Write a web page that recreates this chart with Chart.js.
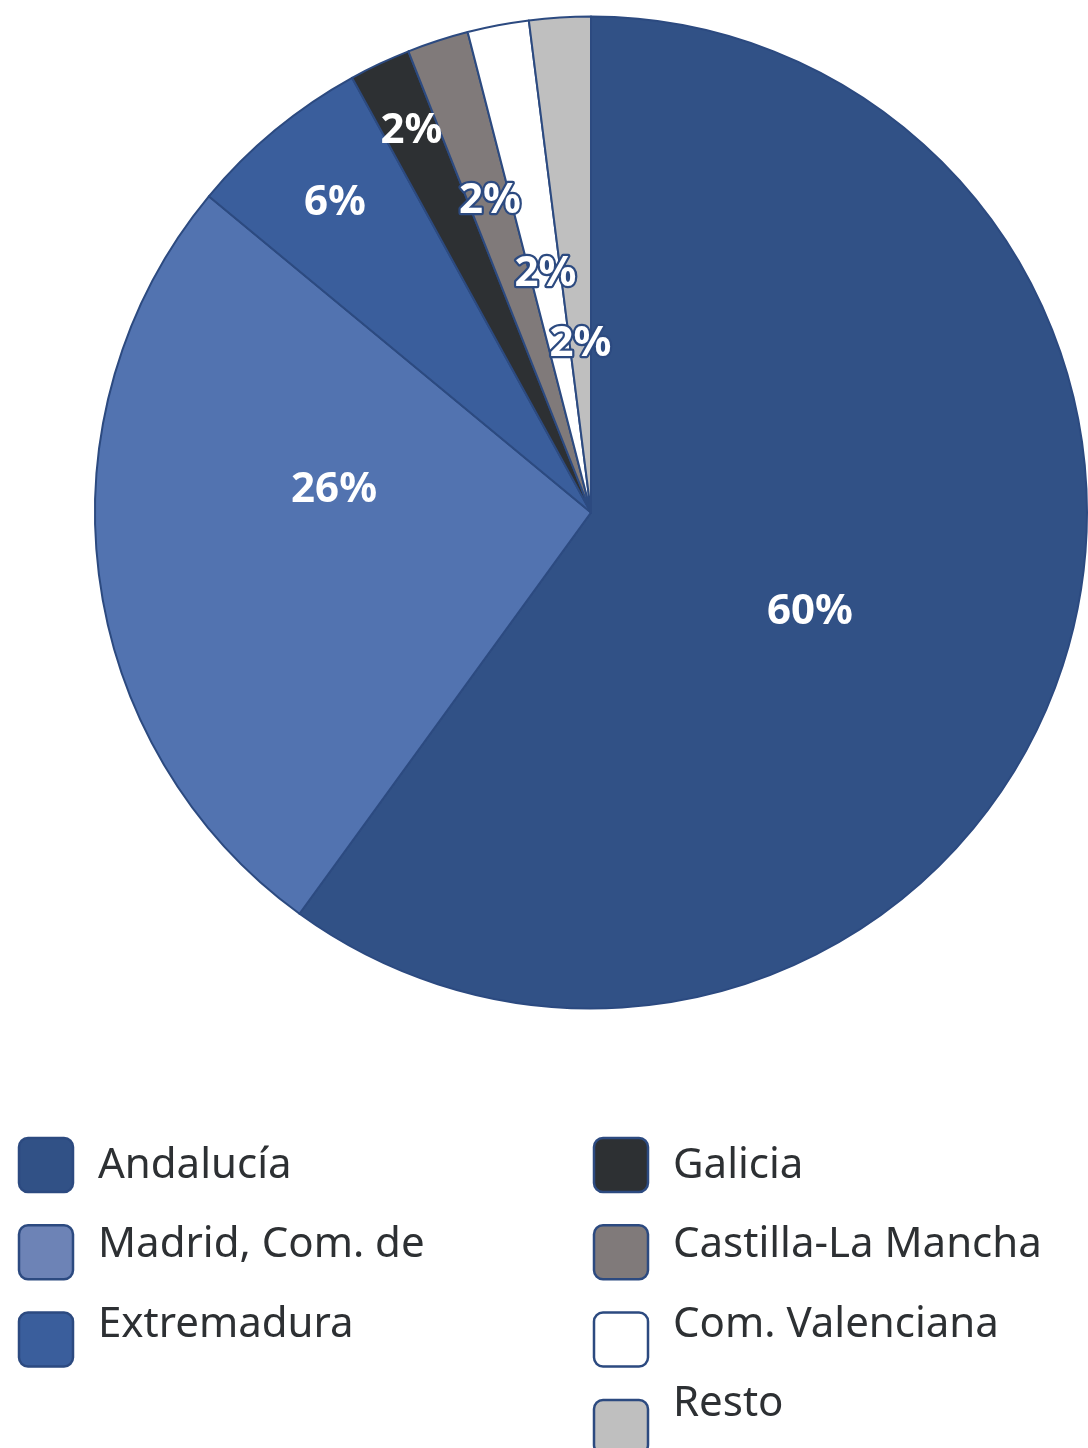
<!DOCTYPE html>
<html lang="es">
<head>
<meta charset="UTF-8">
<title>Distribución por comunidad</title>
<style>
  html, body { margin: 0; padding: 0; background: #ffffff; }
  #wrap { width: 1088px; height: 1448px; }
</style>
</head>
<body>
<div id="wrap"><canvas id="myChart" width="1088" height="1448"></canvas></div>
<script src="https://cdn.jsdelivr.net/npm/chart.js@4.4.1/dist/chart.umd.min.js"></script>
<script>
const regions = ['Andalucía', 'Madrid, Com. de', 'Extremadura', 'Galicia', 'Castilla-La Mancha', 'Com. Valenciana', 'Resto']
const shares = [60, 26, 6, 2, 2, 2, 2]
const sliceColors = ['#315186', '#5273b0', '#3a5e9c', '#2d3033', '#807a7a', '#ffffff', '#bfbfbf']
const legendColors = ['#315186', '#6d83b6', '#3a5e9c', '#2d3033', '#807a7a', '#ffffff', '#bfbfbf']
const edge = '#2c4a80'

// where each % label sits inside its slice: [fraction along the arc, fraction of radius]
const labelPlace = [[0.53, 0.485], [0.63, 0.52], [0.5, 0.81], [0.5, 0.85], [0.5, 0.66], [0.5, 0.49], [0.5, 0.34]]
const outlined = [false, false, false, false, true, true, true]

const pctLabels = {
        id: 'pctLabels',
        afterDatasetsDraw(chart) {
                const c = chart.ctx
                const meta = chart.getDatasetMeta(0)
                c.save()
                c.font = 'bold 42px "Noto Sans", "Open Sans", sans-serif'
                c.textAlign = 'center'
                c.textBaseline = 'middle'
                meta.data.forEach((arc, i) => {
                        const p = arc.getProps(['x', 'y', 'startAngle', 'endAngle', 'outerRadius'], true)
                        const a = p.startAngle + (p.endAngle - p.startAngle) * labelPlace[i][0]
                        const r = p.outerRadius * labelPlace[i][1]
                        const x = p.x + Math.cos(a) * r
                        const y = p.y + Math.sin(a) * r
                        const txt = Math.round(shares[i]) + '%'
                        if (outlined[i]) {
                                c.lineWidth = 4.5
                                c.lineJoin = 'round'
                                c.strokeStyle = edge
                                c.strokeText(txt, x, y)
                        }
                        c.fillStyle = '#ffffff'
                        c.fillText(txt, x, y)
                })
                c.restore()
        }
}

function roundBox(c, x, y, w, h, r) {
        c.beginPath()
        c.moveTo(x + r, y)
        c.arcTo(x + w, y, x + w, y + h, r)
        c.arcTo(x + w, y + h, x, y + h, r)
        c.arcTo(x, y + h, x, y, r)
        c.arcTo(x, y, x + w, y, r)
        c.closePath()
}

const colLegend = {
        id: 'colLegend',
        afterDraw(chart) {
                const c = chart.ctx
                const items = Chart.controllers.pie.overrides.plugins.legend.labels.generateLabels(chart)
                const perCol = 3
                c.save()
                c.font = '42px "Noto Sans", "Open Sans", sans-serif'
                c.textBaseline = 'alphabetic'
                c.textAlign = 'left'
                items.forEach((it, i) => {
                        const col = i < perCol ? 0 : 1
                        const row = i < perCol ? i : i - perCol
                        const bx = col === 0 ? 19 : 594
                        const by = 1138 + row * 87.3
                        roundBox(c, bx, by, 54, 54, 9)
                        c.fillStyle = legendColors[it.index]
                        c.fill()
                        c.lineWidth = 2.5
                        c.strokeStyle = edge
                        c.stroke()
                        c.fillStyle = '#2d3033'
                        c.fillText(it.text, bx + 79, 1178 + row * 79.3)
                })
                c.restore()
        }
}

const ctx = document.getElementById('myChart')
new Chart(ctx, {
        type: 'pie',
        data: {
                labels: regions,
                datasets: [{
                        data: shares,
                        backgroundColor: sliceColors,
                        borderColor: edge,
                        borderWidth: 2,
                        borderJoinStyle: 'round'
                }]
        },
        options: {
                responsive: false,
                animation: false,
                events: [],
                layout: { padding: { left: 94, right: 0, top: 14, bottom: 437 } },
                plugins: {
                        legend: { display: false },
                        tooltip: { enabled: false }
                }
        },
        plugins: [pctLabels, colLegend]
})
</script>
</body>
</html>
